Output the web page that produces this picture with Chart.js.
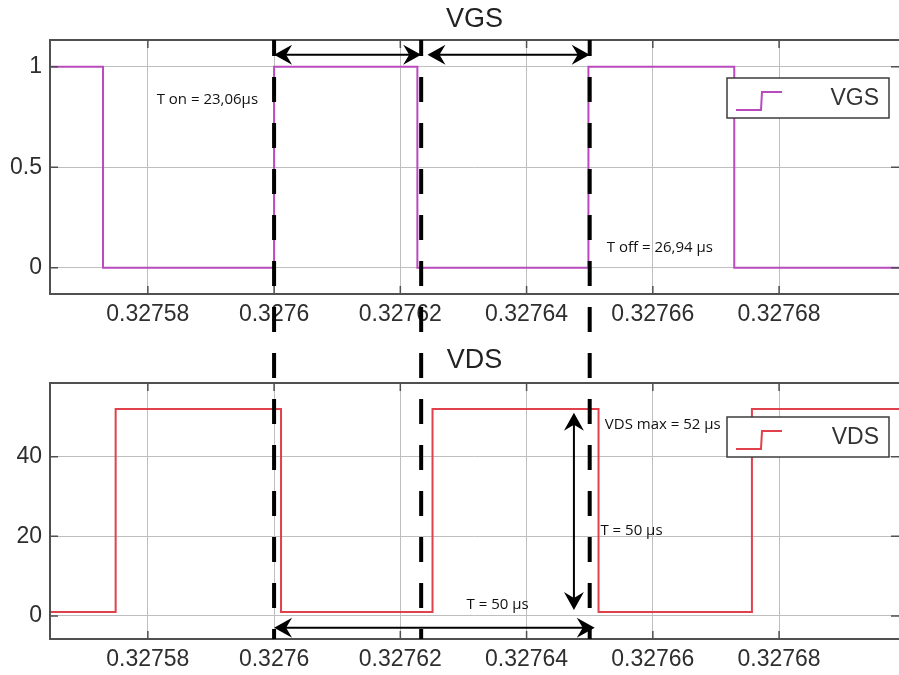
<!DOCTYPE html>
<html>
<head>
<meta charset="utf-8">
<script src="https://cdn.jsdelivr.net/npm/chart.js@4.4.1/dist/chart.umd.min.js"></script>
<style>
  html, body { margin: 0; padding: 0; background: #fff; }
  #wrap { position: relative; width: 899px; height: 675px; overflow: hidden; }
  canvas { position: absolute; left: 0; }
</style>
</head>
<body>
<div id="wrap">
  <canvas id="vgsChart" width="899" height="338" style="top:0"></canvas>
  <canvas id="vdsChart" width="899" height="337" style="top:338px"></canvas>
</div>
<script>
// time axis (s)
const X_MIN = 0.3275645;
const X_MAX = 0.327699;
const xTicks = [0.32758, 0.3276, 0.32762, 0.32764, 0.32766, 0.32768];
const xTickLabels = ['0.32758', '0.3276', '0.32762', '0.32764', '0.32766', '0.32768'];

// VGS: switching instants and level held after each one
const vgsTimes = [0.3275645, 0.3275729, 0.3276, 0.3276227, 0.3276498, 0.3276729, 0.327699];
const vgsLevels = [1, 0, 1, 0, 1, 0, 0];
const vgsTicks = [0, 0.5, 1];
const vgsTickLabels = ['0', '0.5', '1'];

// VDS
const vdsTimes = [0.3275645, 0.3275749, 0.3276011, 0.3276251, 0.3276514, 0.3276757, 0.327699];
const vdsLevels = [1, 52, 1, 52, 1, 52, 52];
const vdsTicks = [0, 20, 40];
const vdsTickLabels = ['0', '20', '40'];

// dashed markers that run through both plots
const markers = [0.3276, 0.3276233, 0.32765];

// annotations, in data units
const vgsNotes = [
    {x: 0.3275814, y: 0.836, text: 'T on = 23,06µs'},
    {x: 0.3276527, y: 0.1, text: 'T off = 26,94 µs'},
];
const vgsArrows = [
    {x1: 0.3276, y1: 1.06, x2: 0.3276233, y2: 1.06},
    {x1: 0.3276243, y1: 1.06, x2: 0.32765, y2: 1.06},
];
const vdsNotes = [
    {x: 0.3276524, y: 48, text: 'VDS max = 52 µs'},
    {x: 0.3276517, y: 21.4, text: 'T = 50 µs'},
    {x: 0.3276305, y: 2.8, text: 'T = 50 µs'},
];
const vdsArrows = [
    {x1: 0.3276, y1: -3.0, x2: 0.3276508, y2: -3.0},
    {x1: 0.3276475, y1: 51, x2: 0.3276475, y2: 1.5},
];

const FONT = "'Liberation Sans', Arial, sans-serif";
const NOTE_FONT = "15px 'Open Sans', sans-serif";
const GRID = 'rgb(190, 190, 190)';
const AXIS = 'rgb(80, 80, 80)';
const C_VGS = 'rgb(185, 75, 190)';
const C_VDS = 'rgb(225, 65, 75)';

function toPoints(times, levels) {
    return times.map((t, i) => ({x: t, y: levels[i]}));
}

function arrowHead(ctx, tx, ty, dx, dy) {
    const L = 18, W = 10, B = 6;
    const px = -dy, py = dx;
    ctx.beginPath();
    ctx.moveTo(tx, ty);
    ctx.lineTo(tx - dx * L + px * W, ty - dy * L + py * W);
    ctx.lineTo(tx - dx * (L - B), ty - dy * (L - B));
    ctx.lineTo(tx - dx * L - px * W, ty - dy * L - py * W);
    ctx.closePath();
    ctx.fill();
}

// draws axes box, inward ticks, legend, notes, arrows, dashed markers, title
function makeOverlay(cfg) {
    return {
        id: 'overlay',
        afterDatasetsDraw(chart) {
            const {ctx, chartArea: a, scales: {x, y}} = chart;
            ctx.save();

            // inward tick marks
            ctx.strokeStyle = AXIS;
            ctx.lineWidth = 1.5;
            ctx.beginPath();
            x.ticks.forEach(t => {
                const px = x.getPixelForValue(t.value);
                ctx.moveTo(px, a.top); ctx.lineTo(px, a.top + 8);
                ctx.moveTo(px, a.bottom); ctx.lineTo(px, a.bottom - 8);
            });
            y.ticks.forEach(t => {
                const py = y.getPixelForValue(t.value);
                ctx.moveTo(a.left, py); ctx.lineTo(a.left + 8, py);
                ctx.moveTo(a.right, py); ctx.lineTo(a.right - 8, py);
            });
            ctx.stroke();

            // box
            ctx.lineWidth = 2;
            ctx.strokeRect(a.left, a.top, a.right - a.left + 2, a.bottom - a.top);

            // legend
            const ds = chart.data.datasets[0];
            const w = 162, h = 40;
            const bx = a.right - 10 - w, by = a.top + cfg.legendTop;
            ctx.fillStyle = '#fff';
            ctx.fillRect(bx, by, w, h);
            ctx.strokeStyle = 'rgb(60, 60, 60)';
            ctx.lineWidth = 1.5;
            ctx.strokeRect(bx, by, w, h);
            ctx.strokeStyle = ds.borderColor;
            ctx.lineWidth = 2;
            ctx.beginPath();
            ctx.moveTo(bx + 9, by + 32);
            ctx.lineTo(bx + 34, by + 32);
            ctx.lineTo(bx + 35, by + 14);
            ctx.lineTo(bx + 55, by + 14);
            ctx.stroke();
            ctx.fillStyle = '#333';
            ctx.font = '23px ' + FONT;
            ctx.textAlign = 'right';
            ctx.textBaseline = 'middle';
            ctx.fillText(ds.label, bx + w - 10, by + h / 2 + 1);

            // notes
            ctx.fillStyle = '#111';
            ctx.font = NOTE_FONT;
            ctx.textAlign = 'left';
            cfg.notes.forEach(n => {
                ctx.fillText(n.text, x.getPixelForValue(n.x), y.getPixelForValue(n.y));
            });

            // arrows
            ctx.strokeStyle = '#000';
            ctx.fillStyle = '#000';
            ctx.lineWidth = 2;
            cfg.arrows.forEach(ar => {
                const x1 = x.getPixelForValue(ar.x1), y1 = y.getPixelForValue(ar.y1);
                const x2 = x.getPixelForValue(ar.x2), y2 = y.getPixelForValue(ar.y2);
                const len = Math.hypot(x2 - x1, y2 - y1);
                const dx = (x2 - x1) / len, dy = (y2 - y1) / len;
                ctx.beginPath();
                ctx.moveTo(x1 + dx * 8, y1 + dy * 8);
                ctx.lineTo(x2 - dx * 8, y2 - dy * 8);
                ctx.stroke();
                arrowHead(ctx, x2, y2, dx, dy);
                arrowHead(ctx, x1, y1, -dx, -dy);
            });

            // dashed markers, phase kept continuous across both canvases
            const y0 = cfg.fromArea ? a.top : 0;
            const y1 = cfg.fromArea ? chart.height : a.bottom;
            ctx.setLineDash([25, 21]);
            ctx.lineDashOffset = (((y0 + cfg.pageTop - 31) % 46) + 46) % 46;
            ctx.lineWidth = 4;
            ctx.strokeStyle = '#000';
            markers.forEach(m => {
                const px = x.getPixelForValue(m);
                ctx.beginPath();
                ctx.moveTo(px, y0);
                ctx.lineTo(px, y1);
                ctx.stroke();
            });
            ctx.restore();
        },
        afterDraw(chart) {
            const {ctx, chartArea: a} = chart;
            ctx.save();
            ctx.fillStyle = '#222';
            ctx.font = '27px ' + FONT;
            ctx.textAlign = 'center';
            ctx.textBaseline = 'middle';
            ctx.fillText(cfg.title, (a.left + a.right) / 2, cfg.titleY);
            ctx.restore();
        }
    };
}

function scales(yMin, yMax, yTicks, yLabels, xHeight) {
    return {
        x: {
            type: 'linear',
            min: X_MIN,
            max: X_MAX,
            afterBuildTicks: s => { s.ticks = xTicks.map(v => ({value: v})); },
            afterFit: s => { s.height = xHeight; },
            ticks: {
                autoSkip: false,
                maxRotation: 0,
                padding: 7,
                color: '#2e2e2e',
                font: {family: FONT, size: 23},
                callback: (v, i) => xTickLabels[i],
            },
            grid: {color: GRID, drawTicks: false},
            border: {display: false},
        },
        y: {
            type: 'linear',
            min: yMin,
            max: yMax,
            afterBuildTicks: s => { s.ticks = yTicks.map(v => ({value: v})); },
            afterFit: s => { s.width = 50; },
            ticks: {
                padding: 8,
                color: '#2e2e2e',
                font: {family: FONT, size: 23},
                callback: (v, i) => yLabels[i],
            },
            grid: {color: GRID, drawTicks: false},
            border: {display: false},
        }
    };
}

const vgsChart = new Chart(
        document.getElementById('vgsChart'),
        {
            type: 'line',
            data: {
                datasets: [{
                    label: 'VGS',
                    borderColor: C_VGS,
                    backgroundColor: C_VGS,
                    borderWidth: 2,
                    pointRadius: 0,
                    stepped: true,
                    data: toPoints(vgsTimes, vgsLevels),
                }]
            },
            options: {
                animation: false,
                responsive: false,
                layout: {padding: {top: 40, right: 0, left: 0, bottom: 0}},
                plugins: {legend: {display: false}, tooltip: {enabled: false}},
                scales: scales(-0.13, 1.133, vgsTicks, vgsTickLabels, 44),
            },
            plugins: [makeOverlay({
                title: 'VGS', titleY: 20, legendTop: 38, pageTop: 0, fromArea: true,
                notes: vgsNotes, arrows: vgsArrows,
            })]
        });

const vdsChart = new Chart(
        document.getElementById('vdsChart'),
        {
            type: 'line',
            data: {
                datasets: [{
                    label: 'VDS',
                    borderColor: C_VDS,
                    backgroundColor: C_VDS,
                    borderWidth: 2,
                    pointRadius: 0,
                    stepped: true,
                    data: toPoints(vdsTimes, vdsLevels),
                }]
            },
            options: {
                animation: false,
                responsive: false,
                layout: {padding: {top: 45, right: 0, left: 0, bottom: 0}},
                plugins: {legend: {display: false}, tooltip: {enabled: false}},
                scales: scales(-5.8, 58.5, vdsTicks, vdsTickLabels, 36),
            },
            plugins: [makeOverlay({
                title: 'VDS', titleY: 23, legendTop: 34, pageTop: 338, fromArea: false,
                notes: vdsNotes, arrows: vdsArrows,
            })]
        });
</script>
</body>
</html>
